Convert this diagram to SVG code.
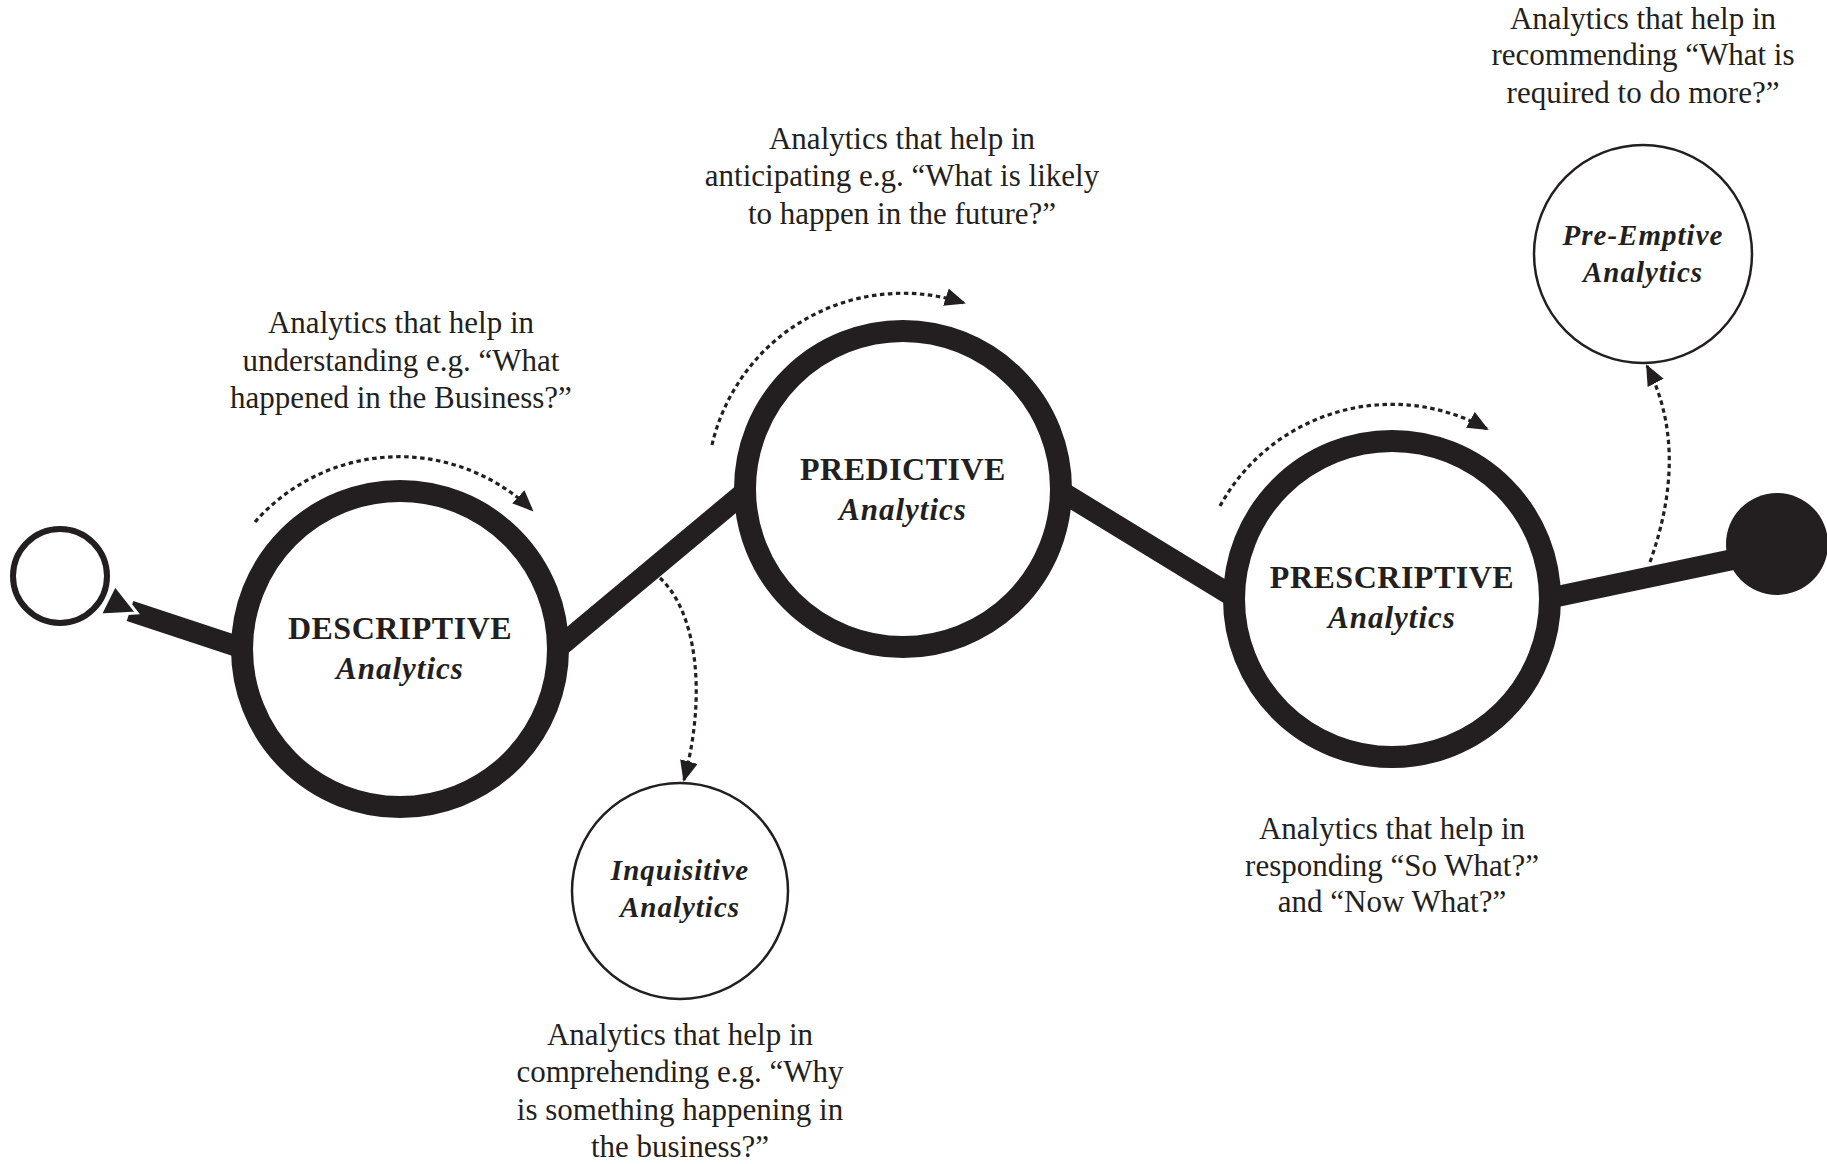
<svg xmlns="http://www.w3.org/2000/svg" width="1827" height="1164" viewBox="0 0 1827 1164">
  <defs>
    <marker id="tip" markerUnits="userSpaceOnUse" markerWidth="22" markerHeight="20" refX="19" refY="9" orient="auto">
      <path d="M0,0 L21,9 L0,18 Z" fill="#231f20"/>
    </marker>
    <style>
      .txt { font-family: "Liberation Serif", "Times New Roman", serif; fill: #231f20; text-anchor: middle; }
      .desc { font-size: 31px; }
      .title { font-size: 32px; font-weight: bold; letter-spacing: 0.5px; }
      .sub { font-size: 31px; font-style: italic; font-weight: bold; letter-spacing: 1px; }
      .minor { font-size: 29px; font-style: italic; font-weight: bold; letter-spacing: 1px; }
      .path { fill: none; stroke: #231f20; stroke-width: 21; stroke-linecap: butt; }
      .dots { fill: none; stroke: #231f20; stroke-width: 3.2; stroke-dasharray: 4.5 3.5; marker-end: url(#tip); }
      .ring { fill: #ffffff; stroke: #231f20; stroke-width: 22; }
      .thin { fill: #ffffff; stroke: #231f20; stroke-width: 2.5; }
    </style>
  </defs>

  <rect width="1827" height="1164" fill="#ffffff"/>

  <!-- connectors: the thick journey line and the dotted progress arrows -->
  <g id="connectors">
    <line class="path" x1="130" y1="611" x2="245" y2="649"/>
    <line class="path" x1="558" y1="648" x2="746" y2="491"/>
    <line class="path" x1="1062" y1="492" x2="1234" y2="597"/>
    <line class="path" x1="1550" y1="598" x2="1740" y2="558"/>

    <!-- start arrowhead beside the open circle -->
    <polygon points="100,615 115,585 137,613" fill="#231f20" stroke="#ffffff" stroke-width="3" stroke-linejoin="miter"/>

    <path class="dots" d="M255,522 A192,192 0 0 1 532,510"/>
    <path class="dots" d="M712,445 A196,196 0 0 1 964,303"/>
    <path class="dots" d="M1220,506 A196,196 0 0 1 1487,429"/>
    <path class="dots" d="M660,578 C695,610 708,690 684,780"/>
    <path class="dots" d="M1650,562 Q1690,450 1647,366"/>
  </g>

  <g id="start">
    <circle cx="60" cy="576" r="47" fill="#ffffff" stroke="#231f20" stroke-width="6"/>
  </g>

  <g id="descriptive">
    <circle class="ring" cx="400" cy="649" r="158"/>
    <text class="txt title" x="400" y="639">DESCRIPTIVE</text>
    <text class="txt sub" x="400" y="679">Analytics</text>
  </g>

  <g id="predictive">
    <circle class="ring" cx="903" cy="489" r="158"/>
    <text class="txt title" x="903" y="480">PREDICTIVE</text>
    <text class="txt sub" x="903" y="520">Analytics</text>
  </g>

  <g id="prescriptive">
    <circle class="ring" cx="1392" cy="599" r="158"/>
    <text class="txt title" x="1392" y="588">PRESCRIPTIVE</text>
    <text class="txt sub" x="1392" y="628">Analytics</text>
  </g>

  <g id="end">
    <circle cx="1777" cy="544" r="51" fill="#231f20"/>
  </g>

  <g id="inquisitive">
    <circle class="thin" cx="680" cy="891" r="108"/>
    <text class="txt minor" x="680" y="880">Inquisitive</text>
    <text class="txt minor" x="680" y="917">Analytics</text>
  </g>

  <g id="pre-emptive">
    <circle class="thin" cx="1643" cy="254" r="109"/>
    <text class="txt minor" x="1643" y="245">Pre-Emptive</text>
    <text class="txt minor" x="1643" y="282">Analytics</text>
  </g>

  <!-- explanatory captions -->
  <g id="caption-descriptive" class="txt desc">
    <text x="401" y="333">Analytics that help in</text>
    <text x="401" y="371">understanding e.g. “What</text>
    <text x="401" y="408">happened in the Business?”</text>
  </g>

  <g id="caption-predictive" class="txt desc">
    <text x="902" y="149">Analytics that help in</text>
    <text x="902" y="186">anticipating e.g. “What is likely</text>
    <text x="902" y="224">to happen in the future?”</text>
  </g>

  <g id="caption-pre-emptive" class="txt desc">
    <text x="1643" y="29">Analytics that help in</text>
    <text x="1643" y="65">recommending “What is</text>
    <text x="1643" y="103">required to do more?”</text>
  </g>

  <g id="caption-prescriptive" class="txt desc">
    <text x="1392" y="839">Analytics that help in</text>
    <text x="1392" y="876">responding “So What?”</text>
    <text x="1392" y="912">and “Now What?”</text>
  </g>

  <g id="caption-inquisitive" class="txt desc">
    <text x="680" y="1045">Analytics that help in</text>
    <text x="680" y="1082">comprehending e.g. “Why</text>
    <text x="680" y="1120">is something happening in</text>
    <text x="680" y="1157">the business?”</text>
  </g>
</svg>
